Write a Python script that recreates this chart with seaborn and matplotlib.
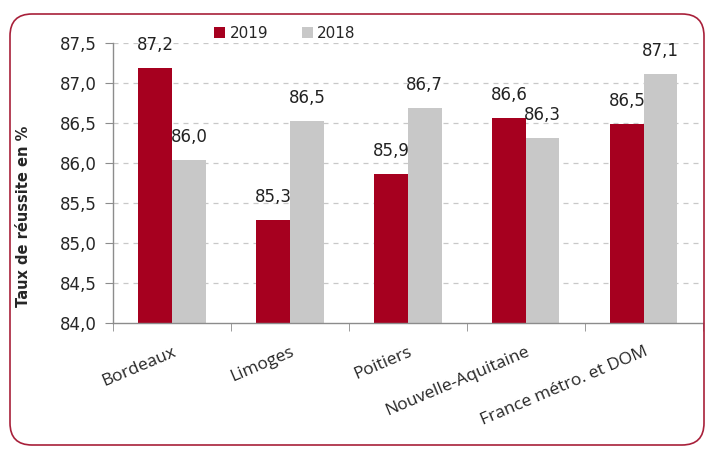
import matplotlib
matplotlib.use('Agg')
import matplotlib.pyplot as plt
from matplotlib.patches import FancyBboxPatch
import pandas as pd
import seaborn as sns

regions = ["Bordeaux", "Limoges", "Poitiers", "Nouvelle-Aquitaine", "France métro. et DOM"]
taux_2019 = [87.19, 85.29, 85.87, 86.57, 86.49]
taux_2018 = [86.04, 86.53, 86.69, 86.31, 87.12]
years = ["2019", "2018"]
yticks = [84.0, 84.5, 85.0, 85.5, 86.0, 86.5, 87.0, 87.5]

red = "#A6001F"
grey = "#C8C8C8"

df = pd.DataFrame({
    "region": regions * 2,
    "annee": [years[0]] * len(regions) + [years[1]] * len(regions),
    "taux": taux_2019 + taux_2018,
})

sns.set_style("white")
plt.rcParams['font.family'] = ['DejaVu Sans']

fig = plt.figure(figsize=(7.07, 4.5), dpi=100)
ax = fig.add_axes([0.160, 0.282, 0.834, 0.622])

sns.barplot(data=df, x="region", y="taux", hue="annee", hue_order=years,
            palette=[red, grey], width=0.57, gap=0, ax=ax, errorbar=None,
            saturation=1, legend=True, linewidth=0)

ax.set_ylim(84, 87.5)
ax.set_xlim(-0.5, len(regions) - 0.5)
ax.set_yticks(yticks)
ax.set_yticklabels([f"{v:.1f}".replace(".", ",") for v in yticks], fontsize=12)

# gridlines
for v in yticks[1:]:
    ax.axhline(v, color="#C8C8C8", lw=0.9, ls=(0, (4, 4)), zorder=0)
ax.set_axisbelow(True)

for sp in ["top", "right"]:
    ax.spines[sp].set_visible(False)
for sp in ["left", "bottom"]:
    ax.spines[sp].set_color("#8C8C8C")
    ax.spines[sp].set_linewidth(1)

ax.tick_params(axis="y", length=6, color="#8C8C8C", pad=6, left=True)
# category boundaries as tick marks
ax.set_xticks([i - 0.5 for i in range(len(regions) + 1)], minor=True)
ax.tick_params(axis="x", which="minor", length=6, color="#8C8C8C", bottom=True)
ax.tick_params(axis="x", which="major", length=0, pad=15)
for lbl in ax.get_xticklabels():
    lbl.set_rotation(23)
    lbl.set_ha("right")
    lbl.set_rotation_mode("anchor")
    lbl.set_fontsize(12.5)
    lbl.set_fontfamily("Open Sans")

ax.set_xlabel("")
ax.set_ylabel("Taux de réussite en %", fontsize=10.5, fontweight="bold")
ax.yaxis.set_label_coords(-0.14, 0.38)

for cont in ax.containers:
    ax.bar_label(cont, labels=[f"{b.get_height():.1f}".replace(".", ",") for b in cont],
                 padding=10, fontsize=12, color="#222222")

ax.legend(loc="center", bbox_to_anchor=(285 / 707, 1 - 33 / 450),
          bbox_transform=fig.transFigure, ncol=2, frameon=False,
          handlelength=0.7, handleheight=0.7, handletextpad=0.3,
          columnspacing=2.2, fontsize=11)

border = FancyBboxPatch((0.10, 0.05), 6.94, 4.31,
                        boxstyle="round,pad=0,rounding_size=0.22",
                        transform=fig.dpi_scale_trans, fill=False,
                        edgecolor="#A8203A", lw=1.2)
fig.patches.append(border)

fig.savefig("out.png", dpi=100)
